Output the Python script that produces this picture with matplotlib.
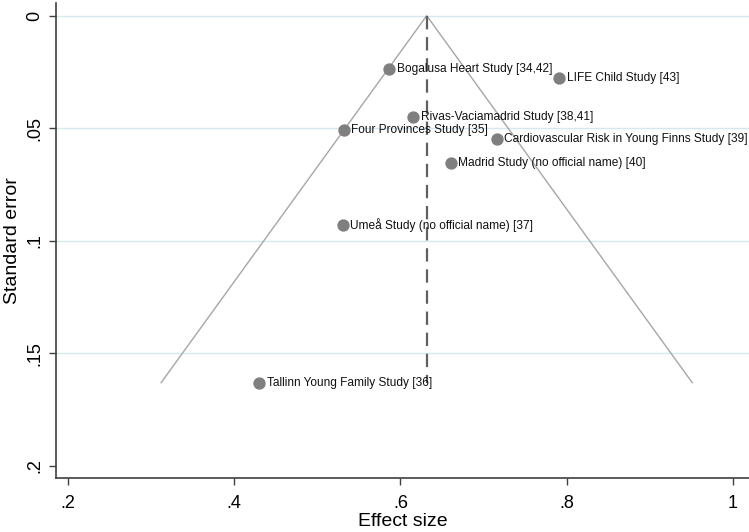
import matplotlib
matplotlib.use("Agg")
import matplotlib.pyplot as plt
import numpy as np

plt.rcParams['font.family'] = ['Liberation Sans', 'DejaVu Sans']

studies = ["Bogalusa Heart Study [34,42]", "LIFE Child Study [43]",
           "Rivas-Vaciamadrid Study [38,41]", "Four Provinces Study [35]",
           "Cardiovascular Risk in Young Finns Study [39]",
           "Madrid Study (no official name) [40]",
           "Umeå Study (no official name) [37]",
           "Tallinn Young Family Study [36]"]
effect = [0.5865, 0.791, 0.615, 0.5316, 0.7158, 0.6605, 0.5304, 0.4296]
se = [0.0238, 0.0278, 0.0452, 0.0510, 0.0549, 0.0653, 0.0930, 0.1631]
pooled = 0.6316
xticks = [0.2, 0.4, 0.6, 0.8, 1.0]
xticklabels = [".2", ".4", ".6", ".8", "1"]
yticks = [0, 0.05, 0.1, 0.15, 0.2]
yticklabels = ["0", ".05", ".1", ".15", ".2"]

fig = plt.figure(figsize=(7.49, 5.32), dpi=100)
ax = fig.add_axes([55.7/749, (532-478.3)/532, (749-55.7)/749, (478.3-3.3)/532])

# gridlines
for yv in yticks[:-1]:
    ax.axhline(yv, color='#d6e8ef', lw=1.0, zorder=0)

semax = max(se)
ax.plot([pooled - 1.96*semax, pooled, pooled + 1.96*semax], [semax, 0, semax],
        color='#a6a6a6', lw=1.0, zorder=1)
ax.plot([pooled, pooled], [0, semax], color='#606060', lw=1.6,
        dashes=(6, 3.5), zorder=1)

ax.scatter(effect, se, s=62, color='#7f7f7f', edgecolor='#7f7f7f', zorder=3)
for x, y, name in zip(effect, se, studies):
    ax.annotate(name, (x, y), xytext=(5.5, 0), textcoords='offset points',
                ha='left', va='center', fontsize=8.6, color='#111111', zorder=4)

ax.set_xlim(0.185, 1.0196)
ax.set_ylim(0.2056, -0.0055)
ax.set_xticks(xticks)
ax.set_xticklabels(xticklabels, fontsize=13)
ax.set_yticks(yticks)
ax.set_yticklabels(yticklabels, fontsize=13, rotation=90, va='center')
ax.tick_params(direction='out', length=5, width=1.0, color='#404040')
ax.tick_params(axis='x', pad=7)
ax.tick_params(axis='y', pad=4)
for s in ['top', 'right']:
    ax.spines[s].set_visible(False)
for s in ['left', 'bottom']:
    ax.spines[s].set_color('#404040')
    ax.spines[s].set_linewidth(1.2)
ax.set_xlabel("Effect size", fontsize=14, labelpad=1)
ax.set_ylabel("Standard error", fontsize=14, labelpad=4)

fig.savefig("out.png", dpi=100)
